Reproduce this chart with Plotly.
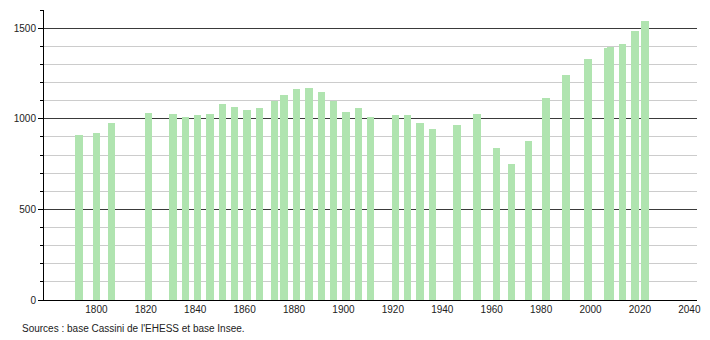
import plotly.graph_objects as go

# Census years and population values
years = [1793, 1800, 1806, 1821, 1831, 1836, 1841, 1846, 1851, 1856, 1861, 1866,
         1872, 1876, 1881, 1886, 1891, 1896, 1901, 1906, 1911, 1921, 1926, 1931,
         1936, 1946, 1954, 1962, 1968, 1975, 1982, 1990, 1999, 2007, 2008, 2013,
         2018, 2022]
population = [913, 924, 974, 1029, 1024, 1007, 1018, 1024, 1079, 1066, 1046, 1057,
              1097, 1132, 1162, 1168, 1146, 1097, 1035, 1057, 1009, 1018, 1018, 978,
              941, 963, 1024, 836, 753, 880, 1112, 1241, 1332, 1392, 1398, 1411,
              1483, 1538]

x_ticks = [1800, 1820, 1840, 1860, 1880, 1900, 1920, 1940, 1960, 1980, 2000, 2020, 2040]
y_ticks = [0, 500, 1000, 1500]
source_text = "Sources : base Cassini de l'EHESS et base Insee."

BAR_COLOR = "rgb(176,228,176)"
FONT = "Liberation Sans, Arial, sans-serif"

fig = go.Figure()
fig.add_trace(go.Bar(
    x=years, y=population, width=3,
    marker=dict(color=BAR_COLOR, line=dict(width=0)),
    hoverinfo="x+y",
))

fig.update_layout(
    width=710, height=340,
    margin=dict(l=44, r=9, t=10, b=40),
    paper_bgcolor="white", plot_bgcolor="white",
    showlegend=False,
    font=dict(family=FONT, size=10, color="black"),
    bargap=0,
)

fig.update_xaxes(
    range=[1778.8, 2043.1],
    tickmode="array", tickvals=x_ticks, ticktext=[str(t) for t in x_ticks],
    showgrid=False, zeroline=False,
    showline=True, linecolor="black", linewidth=1,
    ticks="", ticklen=0,
    tickfont=dict(family=FONT, size=10, color="#222"),
)

fig.update_yaxes(
    range=[0, 1600],
    tickmode="array", tickvals=y_ticks, ticktext=[str(t) for t in y_ticks],
    showgrid=True, gridcolor="#3a3a3a", gridwidth=1,
    zeroline=False,
    showline=True, linecolor="black", linewidth=1,
    ticks="outside", ticklen=5, tickcolor="black", tickwidth=1,
    tickfont=dict(family=FONT, size=10, color="#222"),
    minor=dict(dtick=100, tick0=0, showgrid=True, gridcolor="#cccccc", gridwidth=1,
               ticks="outside", ticklen=3, tickcolor="black", tickwidth=1),
)

fig.add_annotation(
    text=source_text, xref="paper", yref="paper",
    x=-0.0365, y=-0.0966, xanchor="left", yanchor="middle",
    showarrow=False, font=dict(family=FONT, size=10, color="#222"),
)

fig.write_html("out.html")
